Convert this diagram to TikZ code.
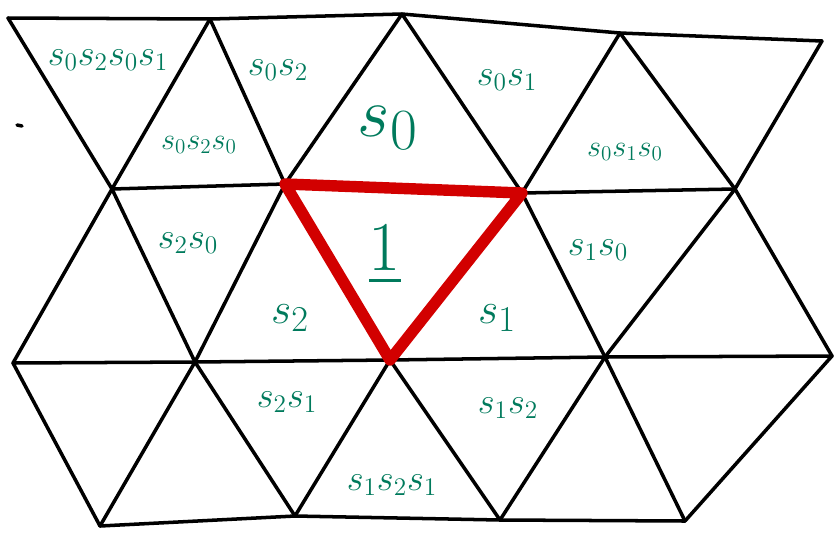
\documentclass[tikz,border=0pt]{standalone}
\usepackage{amsmath,amssymb}
\usepackage{tikz}
\definecolor{wordgreen}{RGB}{0,122,92}
\definecolor{cellred}{RGB}{210,0,0}

\begin{document}
\begin{tikzpicture}[x=0.02cm,y=-0.02cm,
  edge/.style={line width=2pt,line cap=round,line join=round},
  word/.style={text=wordgreen,font=\fontsize{20.74}{25}\selectfont},
  smallword/.style={text=wordgreen,font=\fontsize{17.28}{21}\selectfont},
  bigword/.style={text=wordgreen,font=\fontsize{24.88}{30}\selectfont}]
  \useasboundingbox (0,0) rectangle (835,542);
  % vertices, row by row
  \coordinate (t0) at (8,18);
  \coordinate (t1) at (210,19);
  \coordinate (t2) at (402,14);
  \coordinate (t3) at (620,33);
  \coordinate (t4) at (822,41);
  \coordinate (a0) at (112,189);
  \coordinate (a1) at (285,184);
  \coordinate (a2) at (522,193);
  \coordinate (a3) at (735,189);
  \coordinate (b0) at (13,363);
  \coordinate (b1) at (195,362);
  \coordinate (b2) at (390,360);
  \coordinate (b3) at (605,357);
  \coordinate (b4) at (832,356);
  \coordinate (c0) at (100,526);
  \coordinate (c1) at (295,516);
  \coordinate (c2) at (500,520);
  \coordinate (c3) at (685,521);
  % horizontal lines
  \draw[edge] (t0) -- (t1) -- (t2) -- (t3) -- (t4);
  \draw[edge] (a0) -- (a1) -- (a2) -- (a3);
  \draw[edge] (b0) -- (b1) -- (b2) -- (b3) -- (b4);
  \draw[edge] (c0) -- (c1) -- (c2) -- (c3);
  % slanted lines
  \foreach \p/\q in {t0/a0,a0/t1,t1/a1,a1/t2,t2/a2,a2/t3,t3/a3,a3/t4,
                     a0/b0,a0/b1,a1/b1,a1/b2,a2/b2,a2/b3,a3/b3,a3/b4,
                     b0/c0,b1/c0,b1/c1,b2/c1,b2/c2,b3/c2,b3/c3,b4/c3}
    \draw[edge] (\p) -- (\q);
  \draw[edge] (17,125) -- (22,126);
  % the identity cell
  \draw[cellred,line width=6.5pt,line join=round] (a1) -- (a2) -- (b2) -- cycle;
  % words
  \node[word] (w0) at (108,60) {$s_0s_2s_0s_1$};
  \node[word] (w1) at (278,70) {$s_0s_2$};
  \node[smallword] (w2) at (199,145) {$s_0s_2s_0$};
  \node[bigword] (w3) at (388,128) {\scalebox{1.6}{$s_0$}};
  \node[word] (w4) at (507,80) {$s_0s_1$};
  \node[smallword] (w5) at (625,152) {$s_0s_1s_0$};
  \node[word] (w6) at (188,243) {$s_2s_0$};
  \node[bigword] (w7) at (385,255) {\scalebox{1.6}{$\underline{1}$}};
  \node[bigword] (w8) at (290,318) {$s_2$};
  \node[bigword] (w9) at (497,318) {$s_1$};
  \node[word] (w10) at (598,250) {$s_1s_0$};
  \node[word] (w11) at (287,402) {$s_2s_1$};
  \node[word] (w12) at (508,408) {$s_1s_2$};
  \node[word] (w13) at (392,485) {$s_1s_2s_1$};
\end{tikzpicture}
\end{document}
